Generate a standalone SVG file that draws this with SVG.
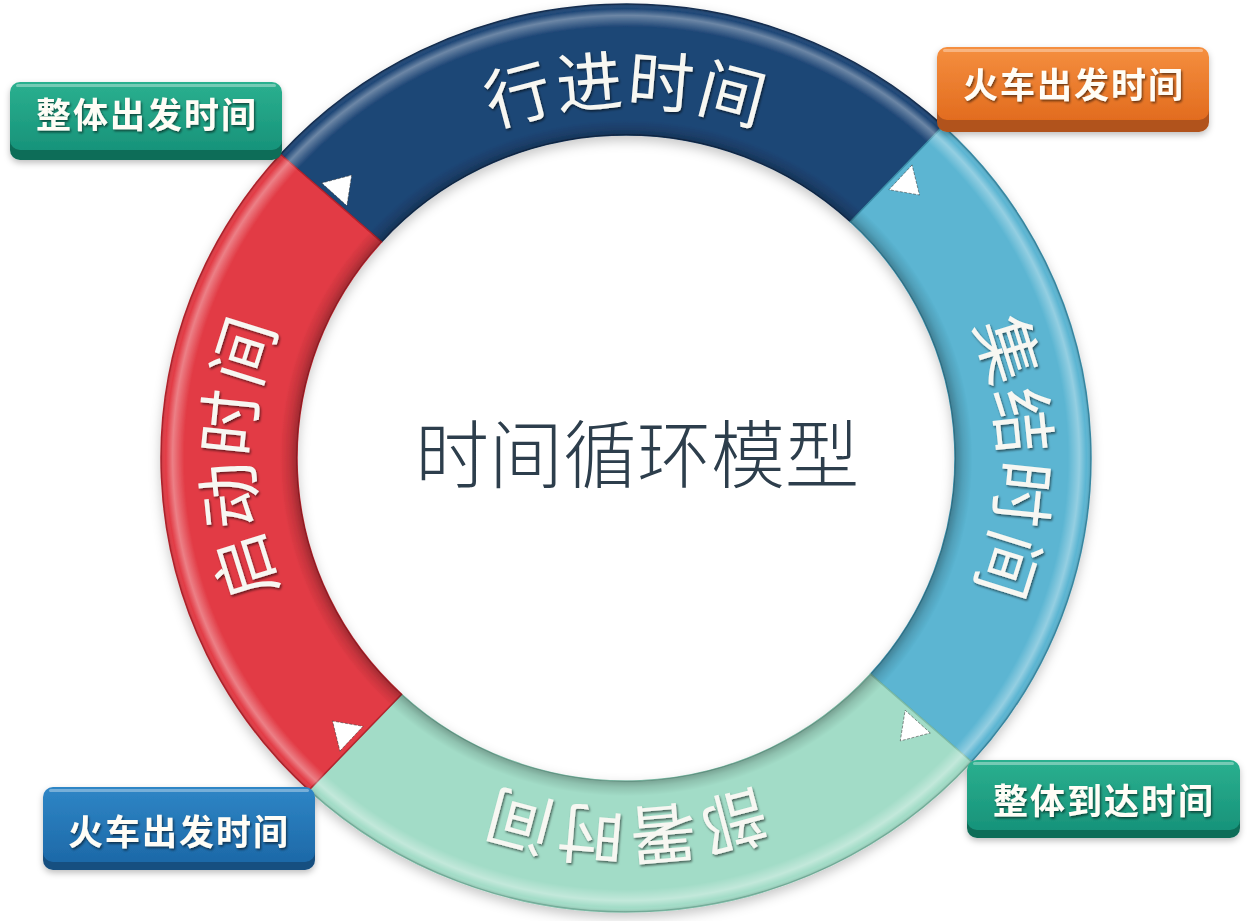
<svg xmlns="http://www.w3.org/2000/svg" width="1257" height="921" viewBox="0 0 1257 921">
<defs>
<style>
.ring-label{font-family:"Noto Sans CJK SC","Noto Sans",sans-serif;font-size:66px;font-weight:400;fill:#f7f7f2;letter-spacing:2px;}
.box-label{font-family:"Noto Sans CJK SC","Noto Sans",sans-serif;font-size:35px;font-weight:700;fill:#fffdf6;letter-spacing:2px;}
.title{font-family:"Noto Sans CJK SC","Noto Sans",sans-serif;font-size:74px;font-weight:300;fill:#2d3e4c;}
.arrow{fill:#ffffff;stroke:#2a2a2a;stroke-width:1;stroke-opacity:0.5;stroke-dasharray:3 1.5;}
.seg{stroke-width:1.5;}
.hl{fill:#ffffff;opacity:0.35;}
</style>
<filter id="ringShadow" x="-10%" y="-10%" width="120%" height="120%">
<feDropShadow dx="0" dy="5" stdDeviation="6" flood-color="#000" flood-opacity="0.22"/>
</filter>
<filter id="emboss" x="-10%" y="-10%" width="120%" height="120%">
<feDropShadow dx="1.2" dy="1.8" stdDeviation="0.8" flood-color="#000" flood-opacity="0.55"/>
</filter>
<filter id="boxShadow" x="-10%" y="-20%" width="120%" height="150%">
<feDropShadow dx="0" dy="3" stdDeviation="3" flood-color="#000" flood-opacity="0.25"/>
</filter>
<radialGradient id="shade" gradientUnits="userSpaceOnUse" cx="626" cy="458" r="465" gradientTransform="translate(626 458) scale(1 0.9763) translate(-626 -458)">
<stop offset="0.70" stop-color="#000" stop-opacity="0.38"/>
<stop offset="0.725" stop-color="#000" stop-opacity="0.12"/>
<stop offset="0.745" stop-color="#000" stop-opacity="0"/>
<stop offset="0.95" stop-color="#fff" stop-opacity="0"/>
<stop offset="0.975" stop-color="#fff" stop-opacity="0.35"/>
<stop offset="0.99" stop-color="#fff" stop-opacity="0"/>
<stop offset="1" stop-color="#000" stop-opacity="0.15"/>
</radialGradient>
<linearGradient id="gTeal" x1="0" y1="0" x2="0" y2="1">
<stop offset="0" stop-color="#2bb08f"/><stop offset="1" stop-color="#17937a"/>
</linearGradient>
<linearGradient id="gOrange" x1="0" y1="0" x2="0" y2="1">
<stop offset="0" stop-color="#f58f3f"/><stop offset="1" stop-color="#e26c1f"/>
</linearGradient>
<linearGradient id="gBlue" x1="0" y1="0" x2="0" y2="1">
<stop offset="0" stop-color="#2f86c6"/><stop offset="1" stop-color="#1d69a8"/>
</linearGradient>
<path id="tpTop" d="M 302.1 281.5 A 374 353 0 0 1 949.9 281.5"/>
<path id="tpRight" d="M 813 152.3 A 374 353 0 0 1 813 763.7"/>
<path id="tpBottom" d="M 949.9 634.5 A 374 353 0 0 1 302.1 634.5"/>
<path id="tpLeft" d="M 439 763.7 A 374 353 0 0 1 439 152.3"/>
</defs>
<rect width="1257" height="921" fill="#ffffff"/>

<g id="ring" filter="url(#ringShadow)">
<g id="seg-travel">
<path class="seg" d="M 280.5 154.2 A 465 454 0 0 1 943.1 125.9 L 850.4 221.8 A 329 323 0 0 0 381.5 241.9 Z" fill="#1e4676" stroke="#142f52"/>
</g>
<g id="seg-assemble">
<path class="seg" d="M 943.1 125.9 A 465 454 0 0 1 971.5 761.8 L 870.5 674.1 A 329 323 0 0 0 850.4 221.8 Z" fill="#5bb5d2" stroke="#3c8faa"/>
</g>
<g id="seg-deploy">
<path class="seg" d="M 971.5 761.8 A 465 454 0 0 1 308.9 790.1 L 401.6 694.2 A 329 323 0 0 0 870.5 674.1 Z" fill="#a2dcc7" stroke="#7dbba6"/>
</g>
<g id="seg-start">
<path class="seg" d="M 308.9 790.1 A 465 454 0 0 1 280.5 154.2 L 381.5 241.9 A 329 323 0 0 0 401.6 694.2 Z" fill="#e23b45" stroke="#b6242d"/>
</g>
<path d="M 161 458 A 465 454 0 1 1 1091 458 A 465 454 0 1 1 161 458 Z M 297 458 A 329 323 0 1 1 955 458 A 329 323 0 1 1 297 458 Z" fill="url(#shade)" fill-rule="evenodd"/>
</g>

<g id="connectors">
<polygon class="arrow" points="321.7,183 346.9,205.8 351.7,175.1"/>
<polygon class="arrow" points="912.1,164.9 888.9,189.7 919.5,195"/>
<polygon class="arrow" points="930.3,733 905.1,710.2 900.3,740.9"/>
<polygon class="arrow" points="339.9,751.1 363.1,726.3 332.5,721"/>
</g>

<g id="label-travel" filter="url(#emboss)">
<text class="ring-label"><textPath href="#tpTop" startOffset="50%" text-anchor="middle">行进时间</textPath></text>
</g>
<g id="label-assemble" filter="url(#emboss)">
<text class="ring-label"><textPath href="#tpRight" startOffset="50%" text-anchor="middle">集结时间</textPath></text>
</g>
<g id="label-deploy" filter="url(#emboss)">
<text class="ring-label"><textPath href="#tpBottom" startOffset="50%" text-anchor="middle">部署时间</textPath></text>
</g>
<g id="label-start" filter="url(#emboss)">
<text class="ring-label"><textPath href="#tpLeft" startOffset="50%" text-anchor="middle">启动时间</textPath></text>
</g>

<g id="title">
<text class="title" x="637" y="482" text-anchor="middle">时间循环模型</text>
</g>

<g id="box-overall-departure" filter="url(#boxShadow)">
<rect x="10" y="88" width="272" height="72" rx="10" fill="#0e6d59"/>
<rect x="10" y="82" width="272" height="68" rx="10" fill="url(#gTeal)"/>
<rect class="hl" x="16" y="84" width="260" height="3" rx="1.5"/>
<text class="box-label" x="147" y="128" text-anchor="middle" filter="url(#emboss)">整体出发时间</text>
</g>

<g id="box-train-departure-top" filter="url(#boxShadow)">
<rect x="937" y="53" width="272" height="79" rx="10" fill="#b1531a"/>
<rect x="937" y="47" width="272" height="73" rx="10" fill="url(#gOrange)"/>
<rect class="hl" x="943" y="49" width="260" height="3" rx="1.5"/>
<text class="box-label" x="1074" y="98" text-anchor="middle" fill="#fff4e2" filter="url(#emboss)">火车出发时间</text>
</g>

<g id="box-train-departure-bottom" filter="url(#boxShadow)">
<rect x="43" y="793" width="272" height="77" rx="10" fill="#164f80"/>
<rect x="43" y="787" width="272" height="75" rx="10" fill="url(#gBlue)"/>
<rect class="hl" x="49" y="789" width="260" height="3" rx="1.5"/>
<text class="box-label" x="179" y="845" text-anchor="middle" filter="url(#emboss)">火车出发时间</text>
</g>

<g id="box-overall-arrival" filter="url(#boxShadow)">
<rect x="967" y="766" width="273" height="72" rx="10" fill="#0e6d59"/>
<rect x="967" y="760" width="273" height="70" rx="10" fill="url(#gTeal)"/>
<rect class="hl" x="973" y="762" width="261" height="3" rx="1.5"/>
<text class="box-label" x="1104" y="814" text-anchor="middle" filter="url(#emboss)">整体到达时间</text>
</g>
</svg>
